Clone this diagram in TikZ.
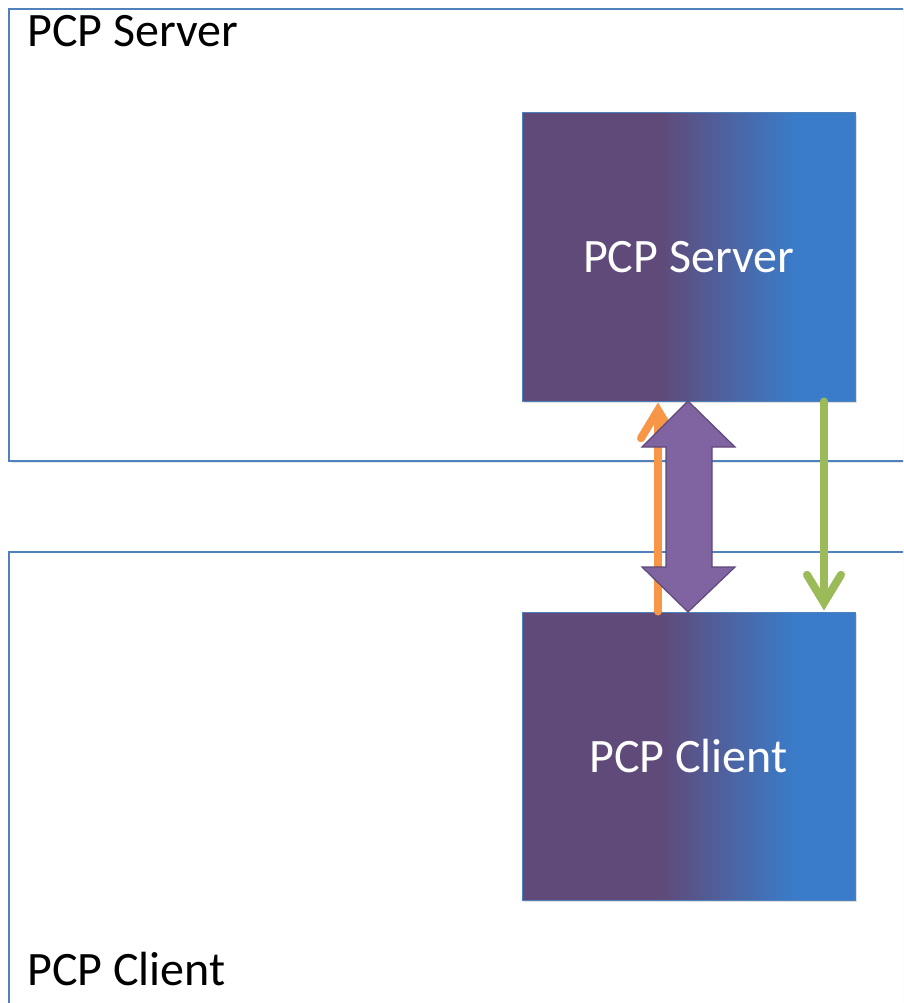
\documentclass[tikz,border=0pt]{standalone}
\usepackage{fontspec}
\setmainfont{Carlito}
\usetikzlibrary{arrows.meta,shadows}
\definecolor{pp}{RGB}{96,74,122}
\definecolor{bb}{RGB}{58,124,201}
\definecolor{frame}{RGB}{79,129,189}
\definecolor{orng}{RGB}{247,150,70}
\definecolor{grn}{RGB}{155,187,89}
\definecolor{purp}{RGB}{128,100,162}
\definecolor{purpd}{RGB}{95,73,122}
\pgfdeclarehorizontalshading{pcpshade}{100bp}{color(0bp)=(pp); color(25bp)=(pp); color(46bp)=(pp); color(66bp)=(bb); color(75bp)=(bb); color(100bp)=(bb)}
\tikzset{
  container/.style={draw=frame, line width=1.6pt, fill=white, drop shadow={opacity=0.18, shadow xshift=1.5pt, shadow yshift=-1.5pt}},
  gradbox/.style={draw=frame, line width=1pt, shading=pcpshade, minimum width=333pt, minimum height=288pt, text=white, font=\fontsize{48}{56}\selectfont, inner sep=0pt, drop shadow={opacity=0.25, shadow xshift=2pt, shadow yshift=-2pt}},
  biglabel/.style={font=\fontsize{48}{56}\selectfont, text=black, inner sep=0pt, anchor=base west},
  thinarrow/.style={line width=8pt, line cap=round, -{Straight Barb[length=28pt, width=34pt, line cap=round]}},
}
\begin{document}
\begin{tikzpicture}[x=1pt,y=-1pt]
\useasboundingbox (0,0) rectangle (903,1003);
\clip (0,0) rectangle (903,1003);
% containers
\draw[container] (9,9) rectangle (930,461);
\draw[container] (9,552) rectangle (930,1030);
\node[biglabel] (srvlabel) at (27,47) {PCP Server};
\node[biglabel] (clilabel) at (27,985) {PCP Client};
% inner boxes
\node[gradbox] (srv) at (688.5,257) {PCP Server};
\node[gradbox] (cli) at (688.5,756) {PCP Client};
% coordinates for connectors
\coordinate (ox) at (658,0);
\coordinate (gx) at (824,0);
% orange up arrow
\draw[thinarrow, draw=orng] (cli.north -| ox) -- ([yshift=-1pt]srv.south -| ox);
% green down arrow
\draw[thinarrow, draw=grn] (srv.south -| gx) -- ([yshift=1pt]cli.north -| gx);
% purple double arrow
\filldraw[fill=purp, draw=purpd, line width=1.2pt, line join=miter]
  (688,401) -- (735,447) -- (712,447) -- (712,567) -- (735,567) -- (688,612)
  -- (642,567) -- (666,567) -- (666,447) -- (642,447) -- cycle;
\end{tikzpicture}
\end{document}
